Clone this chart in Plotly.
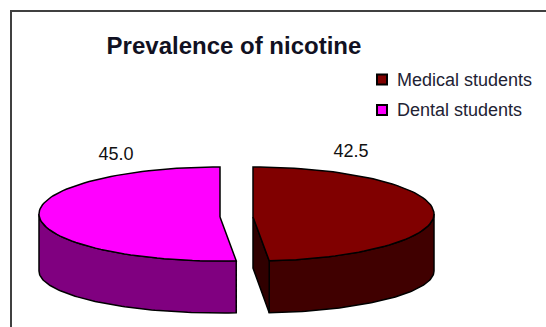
import math
import plotly.graph_objects as go

# Survey results
categories = ["Medical students", "Dental students"]
prevalence = [42.5, 45.0]
chart_title = "Prevalence of nicotine"

top_colors = ["#800000", "#ff00ff"]
wall_colors = ["#400000", "#800080"]
cut_colors = ["#300000", "#800080"]

# Pie drawing geometry in canvas pixels
WIDTH, HEIGHT = 546, 327
CENTER_X = [253, 220]
RX = 181
TOP_CY, TOP_RY = 214, 47
APEX_Y = 217
BOTTOM_CY, BOTTOM_RY = 271, 42
BOTTOM_APEX_Y = 268


def arc(cx, cy, ry, start, stop, n=80):
    """Points of an elliptical arc; angles run clockwise from 12 o'clock, in degrees."""
    pts = [start + (stop - start) * i / n for i in range(n + 1)]
    xs = [cx + RX * math.sin(math.radians(a)) for a in pts]
    ys = [cy - ry * math.cos(math.radians(a)) for a in pts]
    return xs, ys


def poly(fig, xs, ys, fill, name):
    fig.add_trace(go.Scatter(
        x=xs + xs[:1], y=ys + ys[:1], mode="lines", fill="toself", fillcolor=fill,
        line=dict(color="black", width=1.5), hoverinfo="skip", showlegend=False, name=name,
    ))


fig = go.Figure()

# Slice sweep angles come from the values
total = sum(prevalence)
sweep_right = prevalence[0] / total * 360
spans = [(0.0, sweep_right), (sweep_right, 360.0)]

for i, (name, (a0, a1)) in enumerate(zip(categories, spans)):
    cx = CENTER_X[i]

    # Curved outer wall: only the part facing the viewer (90..270 degrees)
    w0, w1 = max(a0, 90), min(a1, 270)
    tx, ty = arc(cx, TOP_CY, TOP_RY, w0, w1)
    bx, by = arc(cx, BOTTOM_CY, BOTTOM_RY, w1, w0)
    poly(fig, tx + bx, ty + by, wall_colors[i], name)

    # Visible cut face of the right-hand slice
    if i == 0:
        ex, ey = arc(cx, TOP_CY, TOP_RY, a1, a1, 1)
        fx, fy = arc(cx, BOTTOM_CY, BOTTOM_RY, a1, a1, 1)
        poly(fig, [cx, ex[0], fx[0], cx], [APEX_Y, ey[0], fy[0], BOTTOM_APEX_Y], cut_colors[i], name)

    # Top face
    sx, sy = arc(cx, TOP_CY, TOP_RY, a0, a1)
    poly(fig, [cx] + sx, [APEX_Y] + sy, top_colors[i], name)

# Value labels above each slice
label_pos = [(351, 152), (116, 155.5)]
fig.add_trace(go.Scatter(
    x=[p[0] for p in label_pos], y=[p[1] for p in label_pos],
    text=[f"{v:.1f}" for v in prevalence], mode="text",
    textfont=dict(family="Liberation Sans", size=18, color="#111111"),
    hoverinfo="skip", showlegend=False,
))

# Legend keys
legend_y = [79.5, 110]
for name, color, y in zip(categories, top_colors, legend_y):
    fig.add_trace(go.Scatter(
        x=[382], y=[y], mode="markers", name=name, showlegend=False, hoverinfo="name",
        marker=dict(symbol="square", size=10, color=color, line=dict(color="black", width=2)),
    ))
    fig.add_annotation(
        x=395, y=y, text=name, showarrow=False, xanchor="left", yanchor="middle",
        xref="x", yref="y", font=dict(family="Liberation Sans", size=18, color="#222233"),
    )

fig.update_layout(
    width=WIDTH, height=HEIGHT, margin=dict(l=0, r=0, t=0, b=0),
    paper_bgcolor="white", plot_bgcolor="white", showlegend=False,
    title=dict(
        text=f"<b>{chart_title}</b>", x=234 / WIDTH, xanchor="center", y=1 - 46 / HEIGHT, yanchor="middle",
        font=dict(family="Liberation Sans", size=24, color="#111122"),
    ),
    xaxis=dict(range=[0, WIDTH], visible=False, fixedrange=True),
    yaxis=dict(range=[HEIGHT, 0], visible=False, fixedrange=True),
    shapes=[dict(
        type="path", path=f"M 11,{HEIGHT + 5} L 11,11 L {WIDTH + 5},11",
        xref="x", yref="y", line=dict(color="#404040", width=2),
    )],
)

fig.write_html("out.html")
